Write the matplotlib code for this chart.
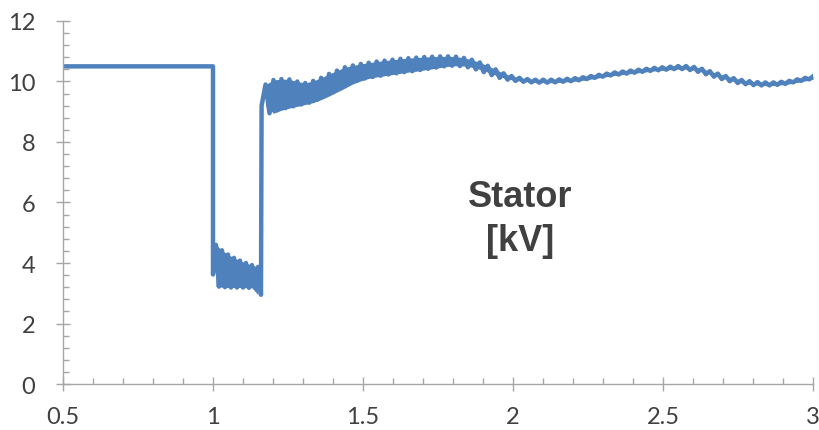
import numpy as np
import matplotlib
matplotlib.use("Agg")
import matplotlib.pyplot as plt
from matplotlib.ticker import MultipleLocator

# steady state before the fault
t_pre = [0.5, 1.0]
v_pre = [10.5, 10.5]

# during the fault (1.0 - 1.16 s): alternating troughs / peaks
low_troughs = [3.62, 3.22, 3.20, 3.19, 3.19, 3.19, 3.18, 3.18, 2.95]
low_peaks = [4.60, 4.42, 4.28, 4.17, 4.08, 4.00, 3.93, 3.87]

# after the fault (1.162 - 3.0 s): troughs / peaks of each ripple cycle
post_troughs = [9.20, 8.95, 9.05, 9.12, 9.18, 9.24, 9.30, 9.40, 9.52, 9.65,
                9.78, 9.92, 10.02, 10.10, 10.15, 10.19, 10.23, 10.27, 10.31, 10.34,
                10.38, 10.42, 10.46, 10.50, 10.52, 10.51, 10.47, 10.40, 10.31, 10.21,
                10.12, 10.06, 10.02, 9.99, 9.97, 9.96, 9.96, 9.97, 9.99, 10.01,
                10.04, 10.08, 10.12, 10.16, 10.20, 10.23, 10.26, 10.29, 10.32, 10.35,
                10.37, 10.39, 10.41, 10.41, 10.38, 10.32, 10.24, 10.16, 10.08, 10.01,
                9.95, 9.91, 9.88, 9.87, 9.87, 9.89, 9.92, 9.97, 10.02, 10.07]
post_peaks = [9.90, 10.05, 10.08, 10.07, 10.00, 9.95, 10.02, 10.12, 10.25, 10.36,
              10.47, 10.53, 10.58, 10.62, 10.66, 10.69, 10.72, 10.75, 10.77, 10.79,
              10.81, 10.82, 10.83, 10.83, 10.82, 10.78, 10.72, 10.63, 10.52, 10.40,
              10.27, 10.18, 10.12, 10.08, 10.06, 10.06, 10.06, 10.07, 10.09, 10.11,
              10.14, 10.18, 10.22, 10.26, 10.30, 10.33, 10.36, 10.39, 10.42, 10.45,
              10.47, 10.49, 10.51, 10.51, 10.48, 10.42, 10.34, 10.26, 10.18, 10.11,
              10.05, 10.01, 9.98, 9.97, 9.97, 9.99, 10.02, 10.07, 10.12, 10.17]

# interleave troughs and peaks into one waveform
low = [low_troughs[0]]
for p, tr in zip(low_peaks, low_troughs[1:]):
    low += [p, tr]
t_low = np.linspace(1.0, 1.16, len(low))

post = []
for tr, p in zip(post_troughs, post_peaks):
    post += [tr, p]
t_post = np.linspace(1.162, 3.0, len(post))

t = np.concatenate([t_pre, t_low, t_post])
v = np.concatenate([v_pre, low, post])

blue = "#4f81bd"
fig = plt.figure(figsize=(8.2, 4.31), dpi=100)
ax = fig.add_axes([0.0768, 0.1067, 0.9147, 0.8423])

# the ripple is dense enough that the band looks solid
ax.fill_between(t_low[1::2], low_troughs[1:], low_peaks, color=blue, lw=0)
ax.fill_between(t_post[1::2], post_troughs, post_peaks, color=blue, lw=0)
ax.plot(t, v, color=blue, linewidth=3.2, solid_joinstyle="round")

ax.set_xlim(0.5, 3.0)
ax.set_ylim(0, 12)
ax.xaxis.set_minor_locator(MultipleLocator(0.1))
ax.yaxis.set_major_locator(MultipleLocator(2))
ax.yaxis.set_minor_locator(MultipleLocator(0.4))
ax.set_xticks([0.5, 1, 1.5, 2, 2.5, 3])
ax.set_xticklabels(["0.5", "1", "1.5", "2", "2.5", "3"])

for s in ["top", "right"]:
    ax.spines[s].set_visible(False)
for s in ["left", "bottom"]:
    ax.spines[s].set_color("#a6a6a6")
    ax.spines[s].set_linewidth(1.0)

ax.tick_params(which="major", direction="inout", length=10, width=1.0,
               color="#a6a6a6", labelcolor="#404040", labelsize=17)
ax.tick_params(which="minor", direction="in", length=4, width=1.0, color="#a6a6a6")
ax.tick_params(axis="y", which="major", pad=15)
ax.tick_params(axis="x", which="major", pad=11)
for lab in ax.get_xticklabels() + ax.get_yticklabels():
    lab.set_fontfamily("Lato")

ax.text(2.023, 6.2, "Stator", ha="center", va="center", fontsize=26,
        fontweight="bold", color="#404040", family="Liberation Sans")
ax.text(2.023, 4.73, "[kV]", ha="center", va="center", fontsize=26,
        fontweight="bold", color="#404040", family="Liberation Sans")

fig.savefig("out.png", dpi=100)
